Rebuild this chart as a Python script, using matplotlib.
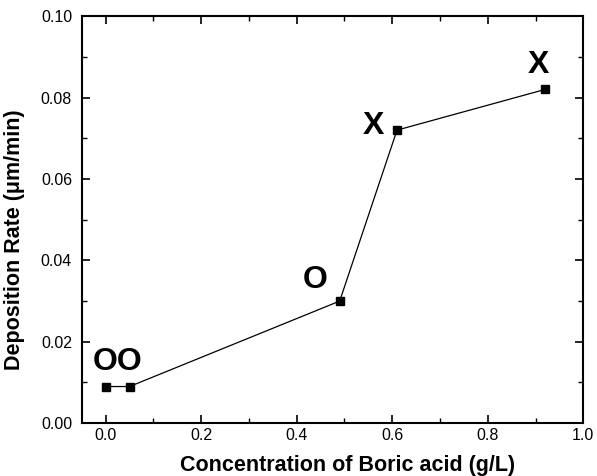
import matplotlib
matplotlib.use("Agg")
import matplotlib.pyplot as plt
from matplotlib.ticker import MultipleLocator, FormatStrFormatter

plt.rcParams['font.family'] = ['Liberation Sans', 'DejaVu Sans']

conc = [0.0, 0.05, 0.49, 0.61, 0.92]
rate = [0.009, 0.009, 0.030, 0.072, 0.082]
marks = ["O", "O", "O", "X", "X"]

fig = plt.figure(figsize=(5.97, 4.76), dpi=100)
ax = fig.add_axes([0.137, 0.111, 0.840, 0.855])
ax.plot(conc, rate, color='black', lw=0.9, marker='s', ms=5.5)

ax.set_xlim(-0.05, 1.0)
ax.set_ylim(0.0, 0.10)
ax.xaxis.set_major_locator(MultipleLocator(0.2))
ax.xaxis.set_minor_locator(MultipleLocator(0.1))
ax.yaxis.set_major_locator(MultipleLocator(0.02))
ax.yaxis.set_minor_locator(MultipleLocator(0.01))
ax.xaxis.set_major_formatter(FormatStrFormatter('%.1f'))
ax.yaxis.set_major_formatter(FormatStrFormatter('%.2f'))
ax.tick_params(which='both', direction='in', top=True, right=True, labelsize=11.5)
ax.tick_params(which='major', length=6, width=1.2)
ax.tick_params(which='minor', length=3.5, width=1)
ax.tick_params(axis='y', which='major', pad=7)
for s in ax.spines.values():
    s.set_linewidth(1.5)

ax.set_xlabel('Concentration of Boric acid (g/L)', fontsize=15.5, fontweight='bold', va='center')
ax.set_ylabel('Deposition Rate (\u03bcm/min)', fontsize=15.5, fontweight='bold', va='center')
ax.xaxis.set_label_coords(0.529, -0.103)
ax.yaxis.set_label_coords(-0.134, 0.45)

kw = dict(fontsize=23, fontweight='bold', ha='center', va='center')
ax.text(conc[0] + 0.025, rate[0] + 0.006, marks[0] + marks[1], **kw)
ax.text(conc[2] - 0.052, rate[2] + 0.0051, marks[2], **kw)
ax.text(conc[3] - 0.05, rate[3] + 0.0011, marks[3], **kw)
ax.text(conc[4] - 0.013, rate[4] + 0.0061, marks[4], **kw)

fig.savefig('out.png', dpi=100)
